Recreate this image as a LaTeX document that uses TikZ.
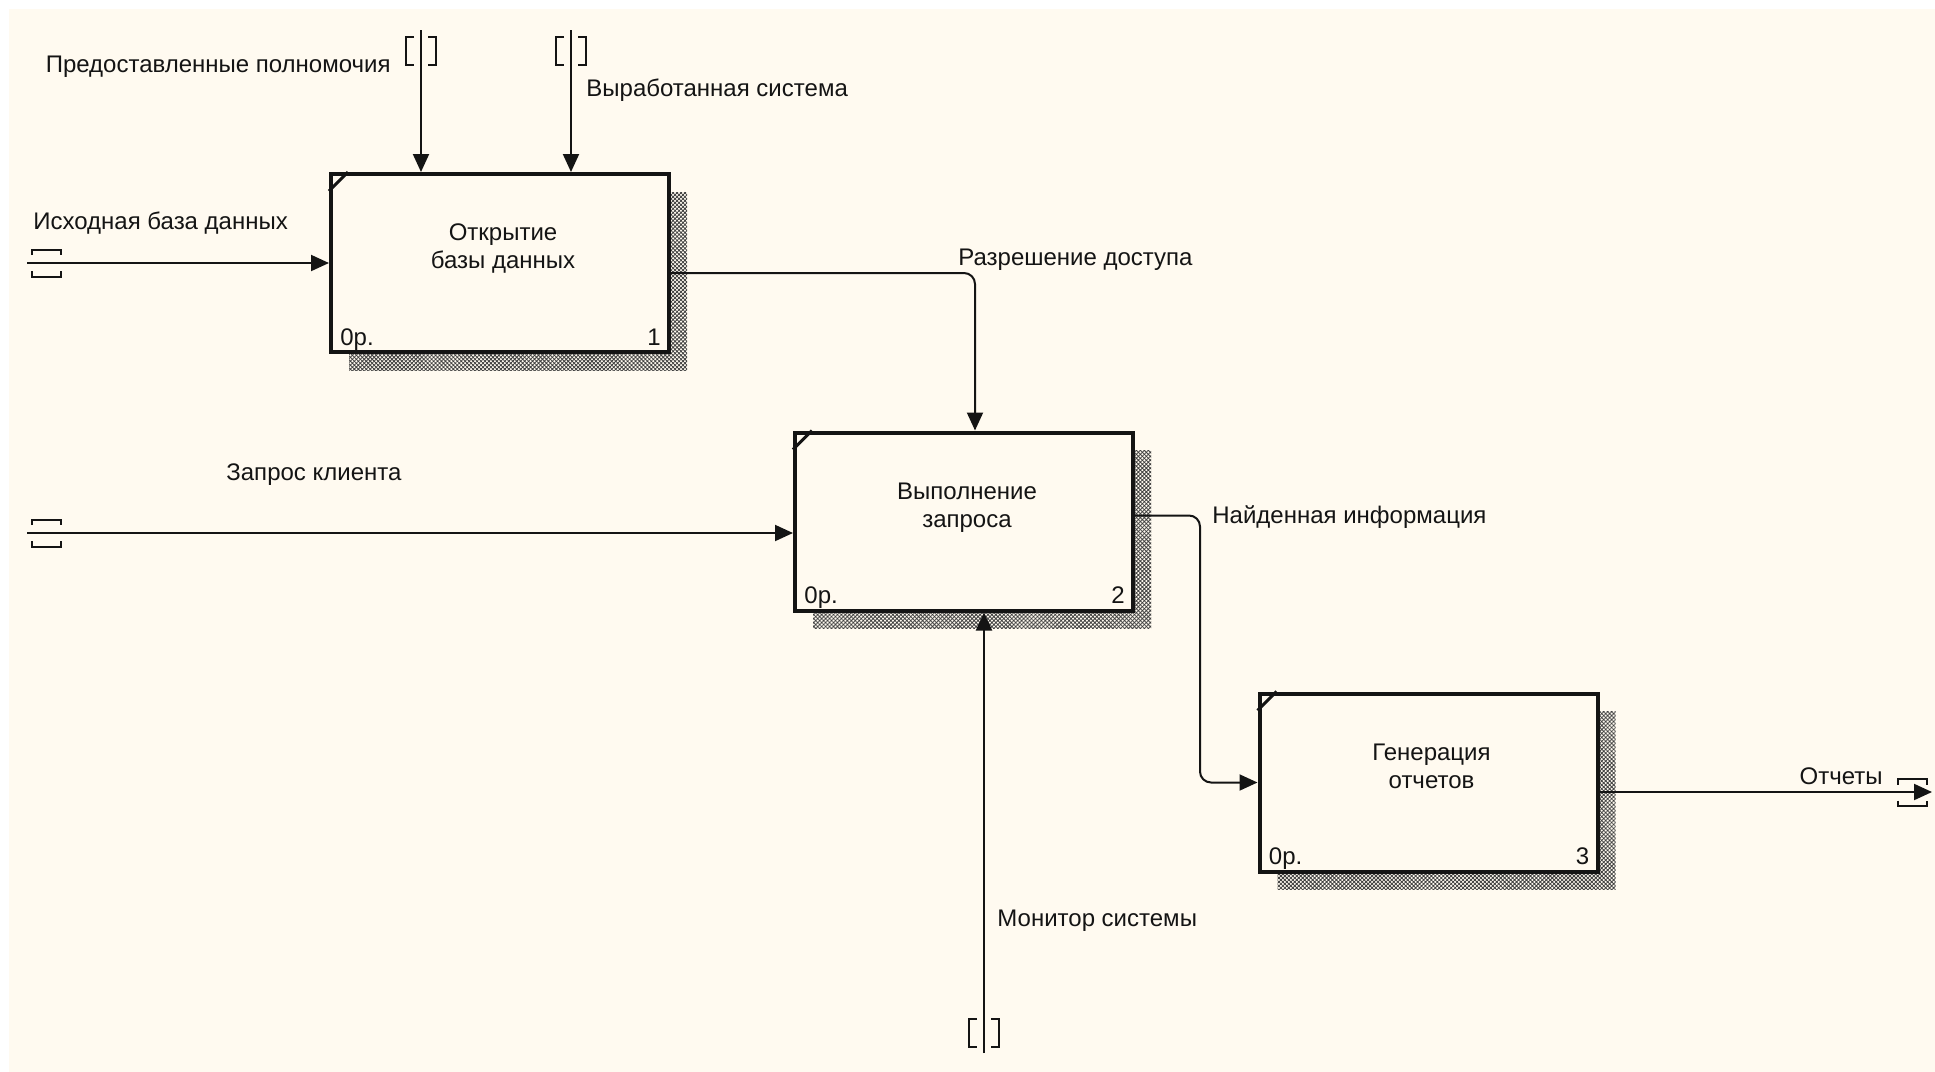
\documentclass[tikz,border=0pt]{standalone}
\usepackage{fontspec}
\setmainfont{Liberation Sans}
\usetikzlibrary{arrows.meta,shadows,patterns.meta}
\definecolor{bgc}{RGB}{255,250,240}
\definecolor{ink}{RGB}{20,20,20}
\tikzset{
  flow/.style={draw=ink, line width=1pt, -{Triangle[length=9pt,width=8pt]}, rounded corners=5.5pt},
  lbl/.style={inner sep=0pt, text=ink},
  tun/.style={draw=ink, line width=1pt},
  actbox/.style={draw=ink, fill=bgc, line width=2pt, minimum width=169pt, minimum height=89pt, inner sep=0pt,
    drop shadow={shadow xshift=9pt, shadow yshift=-9pt, opacity=1, fill=none,
      pattern={Hatch[angle=45,distance=1.4pt,line width=0.4pt]}, pattern color=black!75}},
  corner/.style={draw=ink, line width=1.5pt},
  htun/.pic={\draw[tun] (-14.5,-8) -- (-14.5,-13.5) -- (14.5,-13.5) -- (14.5,-8);
             \draw[tun] (-14.5,8) -- (-14.5,13.5) -- (14.5,13.5) -- (14.5,8);},
  vtun/.pic={\draw[tun] (-7,-14) -- (-15,-14) -- (-15,14) -- (-7,14);
             \draw[tun] (7,-14) -- (15,-14) -- (15,14) -- (7,14);}
}
\begin{document}
\begin{tikzpicture}[x=0.5pt,y=-0.5pt,font=\fontsize{12}{14}\selectfont]
\useasboundingbox (0,0) rectangle (1935,1072);
\fill[white] (0,0) rectangle (1935,1072);
\fill[bgc] (9,9) rectangle (1935,1072);

% boxes
\node[actbox] (b1) at (500,263) {};
\node[actbox] (b2) at (964,521.5) {};
\node[actbox] (b3) at (1428.5,782.5) {};

\foreach \b in {b1,b2,b3}{
  \draw[corner] ([yshift=-9.5pt]\b.north west) -- ([xshift=9.5pt]\b.north west);
}

% box texts
\node[lbl, anchor=base] (b1t1) at ([xshift=1.5pt,yshift=-34pt]b1.north) {Открытие};
\node[lbl, anchor=base] (b1t2) at ([yshift=-14pt]b1t1.base) {базы данных};
\node[lbl, anchor=base] (b2t1) at ([xshift=1.5pt,yshift=-34.5pt]b2.north) {Выполнение};
\node[lbl, anchor=base] (b2t2) at ([yshift=-14pt]b2t1.base) {запроса};
\node[lbl, anchor=base] (b3t1) at ([xshift=1.5pt,yshift=-34.5pt]b3.north) {Генерация};
\node[lbl, anchor=base] (b3t2) at ([yshift=-14pt]b3t1.base) {отчетов};

\foreach \b/\n in {b1/1,b2/2,b3/3}{
  \node[lbl, anchor=base west] (\b c) at ([xshift=5.5pt,yshift=4.5pt]\b.south west) {0р.};
  \node[lbl, anchor=base east] (\b n) at ([xshift=-5pt,yshift=4.5pt]\b.south east) {\n};
}

% free ends
\coordinate (in1) at (27,263);
\coordinate (in2) at (27,533);
\coordinate (ct1) at (421,30);
\coordinate (ct2) at (571,30);
\coordinate (mc) at (984,1053);
\coordinate (out1) at (1932,792);

% connectors
\draw[flow] (in1) -- (in1 -| b1.west);
\draw[flow] (in2) -- (in2 -| b2.west);
\draw[flow] (ct1) -- (ct1 |- b1.north);
\draw[flow] (ct2) -- (ct2 |- b1.north);
\draw[flow] ([yshift=-5pt]b1.east) -| ([xshift=5.5pt]b2.north);
\draw[flow] ([yshift=3pt]b2.east) -- ++(65,0) |- (b3.west);
\draw[flow] (mc) -- (mc |- b2.south);
\draw[flow] (b3.east |- out1) -- (out1);

% tunnels
\pic at (46.5,263) {htun};
\pic at (46.5,533) {htun};
\pic at (1912,792.5) {htun};
\pic at (421,51) {vtun};
\pic at (571,51) {vtun};
\pic at (984,1033) {vtun};

% labels
\node[lbl, anchor=base west] (l1) at (33,229) {Исходная база данных};
\node[lbl, anchor=base east] (l2) at (391,72) {Предоставленные полномочия};
\node[lbl, anchor=base west] (l3) at (586,96) {Выработанная система};
\node[lbl, anchor=base west] (l4) at (958,265) {Разрешение доступа};
\node[lbl, anchor=base west] (l5) at (226,480) {Запрос клиента};
\node[lbl, anchor=base west] (l6) at (1212,523) {Найденная информация};
\node[lbl, anchor=base west] (l7) at (997,926) {Монитор системы};
\node[lbl, anchor=base east] (l8) at (1883,784) {Отчеты};
\end{tikzpicture}
\end{document}
